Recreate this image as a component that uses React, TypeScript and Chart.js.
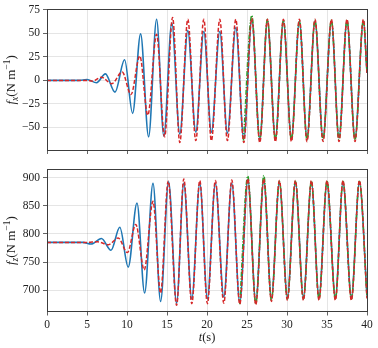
import React, { useEffect, useRef } from 'react';
import { Chart, registerables } from 'chart.js';

Chart.register(...registerables);

// ---- ticks ----
const xTicks = [0, 5, 10, 15, 20, 25, 30, 35, 40];
const fxTicks = [-50, -25, 0, 25, 50, 75];
const fzTicks = [700, 750, 800, 850, 900];
const fxRange = [-74, 75];
const fzRange = [662, 914];

// ---- f_x series: [t (s), value] at turning points ----
const fxBlue: [number, number][] = [
  [0, 0], [4, 0], [5, 1], [6.2, -2.5], [7.3, 7], [8.5, -12.5], [9.7, 22], [10.7, -35], [11.7, 49.5], [12.7, -60],
  [13.7, 65], [14.6, -59], [15.6, 61], [16.6, -57], [17.6, 53], [18.6, -55], [19.6, 52], [20.55, -55], [21.6, 52], [22.55, -56],
  [23.6, 56], [24.6, -62], [25.6, 65], [26.6, -62], [27.55, 63], [28.55, -61], [29.55, 63], [30.55, -61], [31.55, 63], [32.5, -61],
  [33.5, 63], [34.5, -61], [35.55, 63], [36.5, -61], [37.5, 63], [38.5, -61], [39.55, 63], [40, 8],
];
const fxRed: [number, number][] = [
  [0, 0], [5, 0], [5.7, -0.8], [6.8, 3.5], [8.1, -3.5], [9.4, 9], [10.5, -15], [11.6, 26], [12.6, -37], [13.7, 49],
  [14.7, -60], [15.7, 67], [16.6, -66], [17.6, 65], [18.6, -64], [19.6, 65], [20.55, -64], [21.6, 65], [22.55, -64], [23.6, 65],
  [24.6, -66], [25.6, 66], [26.6, -66], [27.55, 65], [28.55, -65], [29.55, 65], [30.55, -65], [31.55, 65], [32.5, -65], [33.5, 65],
  [34.5, -65], [35.55, 65], [36.5, -65], [37.5, 65], [38.5, -65], [39.55, 65], [40, 8],
];
const fxGreen: [number, number][] = [
  [24.55, -64], [25.6, 69], [26.6, -64], [27.55, 65], [28.55, -63], [29.55, 64], [30.55, -63], [31.55, 64], [32.5, -63],
  [33.5, 64], [34.5, -63], [35.55, 64], [36.5, -63], [37.5, 64], [38.5, -63], [39.55, 64], [40, 8],
];

// ---- f_z series ----
const fzBlue: [number, number][] = [
  [0, 785], [4.5, 785], [5.5, 782], [6.8, 792], [8.0, 771], [9.1, 812], [10.15, 741], [11.25, 855], [12.2, 695], [13.25, 890],
  [14.2, 680], [15.2, 893], [16.2, 677], [17.1, 890], [18.1, 685], [19.1, 890], [20.05, 685], [21.05, 890], [22.1, 688], [23.1, 890],
  [24.1, 678], [25.1, 897], [26.1, 680], [27.1, 895], [28.05, 686], [29.05, 891], [30.05, 688], [31.05, 891], [32.05, 688], [33.05, 891],
  [34.0, 688], [35.0, 891], [36.05, 688], [37.0, 891], [38.05, 688], [39.05, 891], [40, 690],
];
const fzRed: [number, number][] = [
  [0, 785], [5, 785], [6.3, 786], [7.7, 781], [8.9, 793], [10.05, 767], [11.1, 817], [12.15, 736], [13.25, 858], [14.2, 695],
  [15.15, 894], [16.2, 673], [17.1, 898], [18.1, 676], [19.1, 895], [20.05, 676], [21.05, 895], [22.1, 677], [23.1, 896], [24.1, 675],
  [25.1, 898], [26.1, 674], [27.1, 898], [28.05, 680], [29.05, 895], [30.05, 682], [31.05, 895], [32.05, 682], [33.05, 895], [34.0, 682],
  [35.0, 895], [36.05, 682], [37.0, 895], [38.05, 682], [39.05, 895], [40, 685],
];
const fzGreen: [number, number][] = [
  [24.1, 675], [25.1, 903], [26.1, 676], [27.1, 904], [28.05, 682], [29.05, 894], [30.05, 684], [31.05, 894], [32.05, 684],
  [33.05, 894], [34.0, 684], [35.0, 894], [36.05, 684], [37.0, 894], [38.05, 684], [39.05, 894], [40, 687],
];

const SERIF = '"Liberation Serif", "Times New Roman", serif';
const TEXT = '#222';
const FRAME = '#3c3c3c';
const GRID = 'rgba(0,0,0,0.13)';

const fmt = (v: number) => (v < 0 ? '\u2212' + Math.abs(v) : String(v));

function titlePlugin(sub: string, showXTitle: boolean) {
  return {
    id: 'frameTitles',
    afterDraw(chart: any) {
      const { ctx, chartArea: a } = chart;
      ctx.save();
      const al = (p: number) => Math.floor(p) + 0.5;
      ctx.strokeStyle = FRAME;
      ctx.lineWidth = 1;
      ctx.strokeRect(al(a.left), al(a.top), al(a.right) - al(a.left), al(a.bottom) - al(a.top));
      const segs = [
        { t: 'f', f: `italic 13px ${SERIF}`, dy: 0 },
        { t: sub, f: `italic 9.5px ${SERIF}`, dy: 3 },
        { t: '(N m', f: `13px ${SERIF}`, dy: 0 },
        { t: '\u22121', f: `9.5px ${SERIF}`, dy: -5 },
        { t: ')', f: `13px ${SERIF}`, dy: 0 },
      ];
      let total = 0;
      const widths = segs.map((s) => {
        ctx.font = s.f;
        const w = ctx.measureText(s.t).width;
        total += w;
        return w;
      });
      ctx.translate(12, (a.top + a.bottom) / 2);
      ctx.rotate(-Math.PI / 2);
      ctx.fillStyle = TEXT;
      ctx.textBaseline = 'middle';
      ctx.textAlign = 'left';
      let x = -total / 2;
      segs.forEach((s, i) => {
        ctx.font = s.f;
        ctx.fillText(s.t, x, s.dy);
        x += widths[i];
      });
      ctx.restore();
      if (showXTitle) {
        ctx.save();
        ctx.fillStyle = TEXT;
        ctx.textBaseline = 'middle';
        ctx.textAlign = 'left';
        const parts = [
          { t: 't', f: `italic 12.5px ${SERIF}` },
          { t: '(s)', f: `12.5px ${SERIF}` },
        ];
        let tw = 0;
        const ws = parts.map((p) => {
          ctx.font = p.f;
          const w = ctx.measureText(p.t).width;
          tw += w;
          return w;
        });
        let xx = (a.left + a.right) / 2 - tw / 2;
        parts.forEach((p, i) => {
          ctx.font = p.f;
          ctx.fillText(p.t, xx, a.bottom + 26);
          xx += ws[i];
        });
        ctx.restore();
      }
    },
  };
}

function toPts(s: [number, number][]) {
  return s.map(([x, y]) => ({ x, y }));
}

function makeConfig(
  blue: [number, number][],
  red: [number, number][],
  green: [number, number][],
  range: number[],
  yTicks: number[],
  bottom: boolean,
  sub: string,
  padTop: number,
): any {
  const common = { pointRadius: 0, fill: false, cubicInterpolationMode: 'monotone', borderJoinStyle: 'round' };
  return {
    type: 'line',
    data: {
      datasets: [
        { ...common, data: toPts(red), borderColor: '#d62728', borderWidth: 1.5, borderDash: [4, 2] },
        { ...common, data: toPts(green), borderColor: '#2ca02c', borderWidth: 1.5, borderDash: [5, 1.5, 1.2, 1.5] },
        { ...common, data: toPts(blue), borderColor: '#1f77b4', borderWidth: 1.6 },
      ],
    },
    options: {
      animation: false,
      responsive: false,
      events: [],
      layout: { padding: { top: padTop, right: 11, left: 0, bottom: 0 } },
      plugins: { legend: { display: false }, tooltip: { enabled: false } },
      scales: {
        x: {
          type: 'linear',
          min: 0,
          max: 40,
          afterBuildTicks: (s: any) => {
            s.ticks = xTicks.map((v) => ({ value: v }));
          },
          afterFit: (s: any) => {
            s.height = bottom ? 36.5 : 10;
          },
          ticks: {
            autoSkip: false,
            maxRotation: 0,
            padding: 3,
            color: TEXT,
            font: { family: SERIF, size: 11.5 },
            callback: (v: any) => (bottom ? fmt(Number(v)) : ''),
          },
          grid: { color: GRID, tickColor: FRAME, tickLength: 4, lineWidth: 0.8 },
          border: { display: false },
        },
        y: {
          type: 'linear',
          min: range[0],
          max: range[1],
          afterBuildTicks: (s: any) => {
            s.ticks = yTicks.map((v) => ({ value: v }));
          },
          afterFit: (s: any) => {
            s.width = 47;
          },
          ticks: {
            padding: 3,
            color: TEXT,
            font: { family: SERIF, size: 11.5 },
            callback: (v: any) => fmt(Number(v)),
          },
          grid: { color: GRID, tickColor: FRAME, tickLength: 4, lineWidth: 0.8 },
          border: { display: false },
        },
      },
    },
    plugins: [titlePlugin(sub, bottom)],
  };
}

export default function App() {
  const topRef = useRef<HTMLCanvasElement>(null);
  const botRef = useRef<HTMLCanvasElement>(null);

  useEffect(() => {
    const c1 = new Chart(topRef.current as HTMLCanvasElement, makeConfig(fxBlue, fxRed, fxGreen, fxRange, fxTicks, false, 'x', 8));
    const c2 = new Chart(botRef.current as HTMLCanvasElement, makeConfig(fzBlue, fzRed, fzGreen, fzRange, fzTicks, true, 'z', 9.5));
    return () => {
      c1.destroy();
      c2.destroy();
    };
  }, []);

  return (
    <div style={{ position: 'absolute', left: 0, top: 0, width: 378, height: 348, background: '#fff' }}>
      <canvas ref={topRef} width={378} height={160} style={{ position: 'absolute', left: 0, top: 0, width: 378, height: 160 }} />
      <canvas ref={botRef} width={378} height={188} style={{ position: 'absolute', left: 0, top: 160, width: 378, height: 188 }} />
    </div>
  );
}
